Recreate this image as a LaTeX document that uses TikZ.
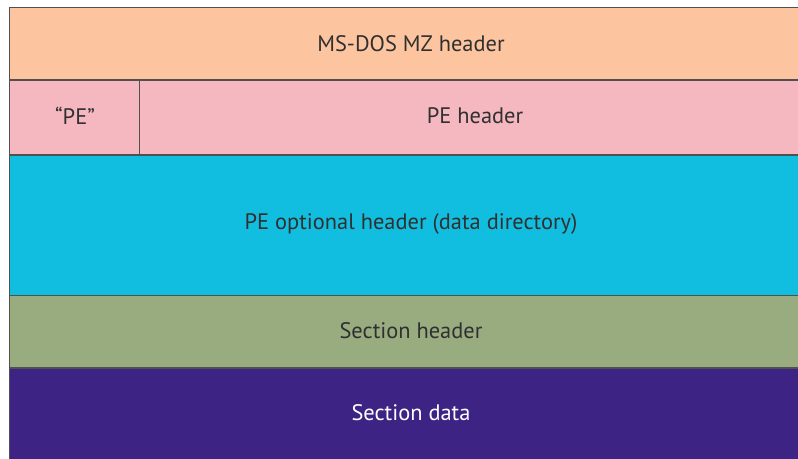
\documentclass[tikz,border=0pt]{standalone}
\usepackage{fontspec}
\setmainfont{PT Sans}
\definecolor{cpeach}{HTML}{FDC59F}
\definecolor{cpink}{HTML}{F5B7C0}
\definecolor{ccyan}{HTML}{12BEE0}
\definecolor{cgreen}{HTML}{98AC80}
\definecolor{cpurple}{HTML}{3D2383}
\definecolor{cline}{HTML}{505050}
\definecolor{ctext}{HTML}{303030}
\begin{document}
\begin{tikzpicture}[x=1bp,y=-1bp,
  band/.style={draw=cline,line width=1.5bp},
  lbl/.style={font=\fontsize{22.5}{26}\selectfont,text=ctext,inner sep=0pt}]
\useasboundingbox (0,0) rectangle (798,459);
\fill[cpeach] (9.5,7.5) rectangle (800,80);
\fill[cpink] (9.5,80) rectangle (800,155);
\fill[ccyan] (9.5,155) rectangle (800,295.5);
\fill[cgreen] (9.5,295.5) rectangle (800,368);
\fill[cpurple] (9.5,368) rectangle (800,461);
\draw[band] (800,7.5) -- (9.5,7.5) -- (9.5,461);
\draw[band] (9.5,80) -- (800,80);
\draw[band] (9.5,155) -- (800,155);
\draw[band] (9.5,295.5) -- (800,295.5);
\draw[band] (9.5,368) -- (800,368);
\draw[band] (139.7,80) -- (139.7,155);
\node[lbl] (mz) at (411,44) {MS-DOS MZ header};
\node[lbl] (pesig) at (75,116) {“PE”};
\node[lbl] (pehdr) at (475,116) {PE header};
\node[lbl] (opt) at (411,224) {PE optional header (data directory)};
\node[lbl] (sech) at (411,331) {Section header};
\node[lbl,text=white] (secd) at (411,413) {Section data};
\end{tikzpicture}
\end{document}
